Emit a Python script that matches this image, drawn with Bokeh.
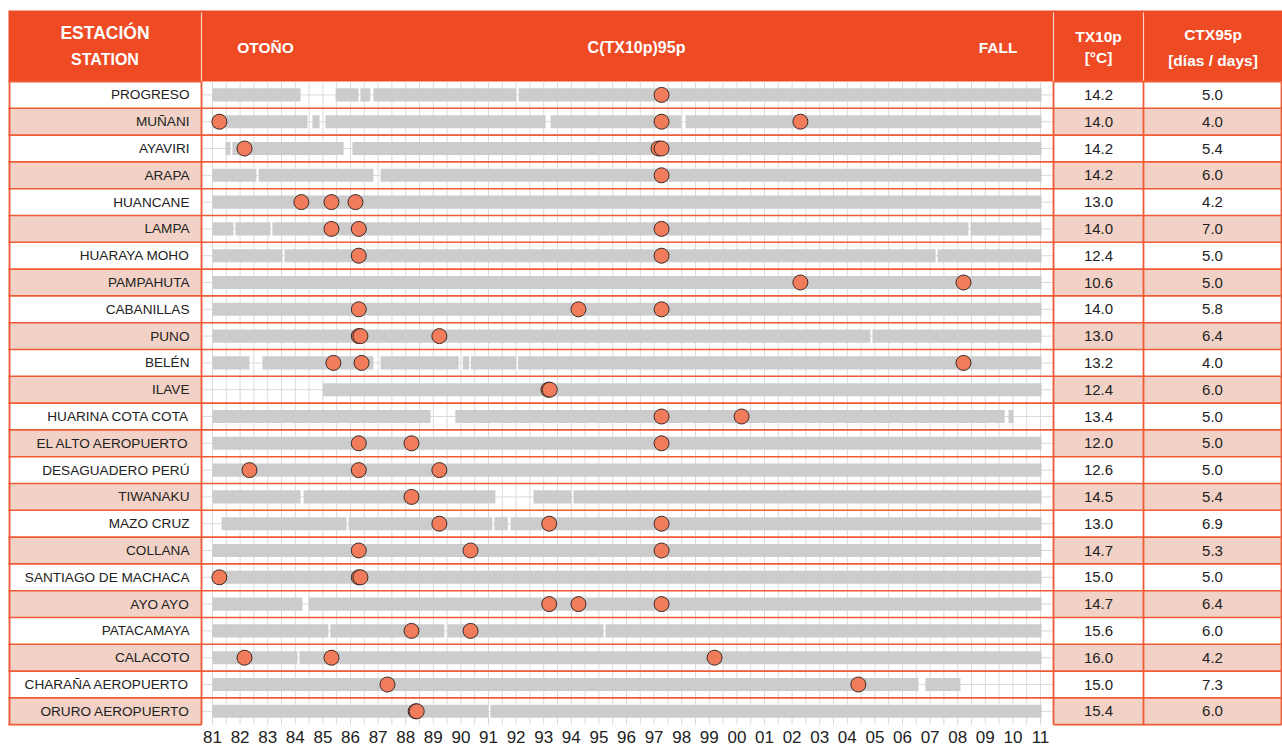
import numpy as np
from bokeh.plotting import figure
from bokeh.models import Range1d
from bokeh.core.properties import value
from bokeh.embed import file_html
from bokeh.resources import INLINE

# ---------------- data ----------------
stations = ["PROGRESO", "MUÑANI", "AYAVIRI", "ARAPA", "HUANCANE", "LAMPA",
            "HUARAYA MOHO", "PAMPAHUTA", "CABANILLAS", "PUNO", "BELÉN", "ILAVE",
            "HUARINA COTA COTA", "EL ALTO AEROPUERTO", "DESAGUADERO PERÚ",
            "TIWANAKU", "MAZO CRUZ", "COLLANA", "SANTIAGO DE MACHACA", "AYO AYO",
            "PATACAMAYA", "CALACOTO", "CHARAÑA AEROPUERTO", "ORURO AEROPUERTO"]

tx10p = [14.2, 14.0, 14.2, 14.2, 13.0, 14.0, 12.4, 10.6, 14.0, 13.0, 13.2, 12.4,
         13.4, 12.0, 12.6, 14.5, 13.0, 14.7, 15.0, 14.7, 15.6, 16.0, 15.0, 15.4]

ctx95p = [5.0, 4.0, 5.4, 6.0, 4.2, 7.0, 5.0, 5.0, 5.8, 6.4, 4.0, 6.0,
          5.0, 5.0, 5.0, 5.4, 6.9, 5.3, 5.0, 6.4, 6.0, 4.2, 7.3, 6.0]

# years of C(TX10p)95p events (decimal years)
events = [
    [1997.27],
    [1981.25, 1997.27, 2002.30],
    [1982.16, 1997.16, 1997.27],
    [1997.27],
    [1984.22, 1985.31, 1986.18],
    [1985.31, 1986.30, 1997.27],
    [1986.30, 1997.27],
    [2002.30, 2008.21],
    [1986.30, 1994.26, 1997.27],
    [1986.30, 1986.36, 1989.22],
    [1985.38, 1986.40, 2008.21],
    [1993.17, 1993.22],
    [1997.27, 2000.17],
    [1986.30, 1988.21, 1997.27],
    [1982.34, 1986.30, 1989.22],
    [1988.21],
    [1989.22, 1993.20, 1997.27],
    [1986.30, 1990.35, 1997.27],
    [1981.25, 1986.30, 1986.36],
    [1993.20, 1994.26, 1997.27],
    [1988.21, 1990.35],
    [1982.16, 1985.31, 1999.19],
    [1987.34, 2004.40],
    [1988.36, 1988.40],
]

# periods with data (start, end) in decimal years
segments = [
    [(1981.0, 1984.19), (1985.46, 1986.29), (1986.36, 1986.72), (1986.83, 1992.01), (1992.09, 2011.04)],
    [(1981.0, 1984.44), (1984.62, 1984.88), (1985.09, 1993.07), (1993.25, 1997.99), (1998.14, 2011.04)],
    [(1981.47, 1981.65), (1981.72, 1985.75), (1986.07, 2011.04)],
    [(1981.0, 1982.59), (1982.67, 1986.83), (1987.09, 2011.04)],
    [(1981.0, 2011.04)],
    [(1981.0, 1981.76), (1981.83, 1983.10), (1983.17, 2008.39), (2008.46, 2011.04)],
    [(1981.0, 1983.54), (1983.61, 2007.20), (2007.27, 2011.04)],
    [(1981.0, 2011.04)],
    [(1981.0, 2011.04)],
    [(1981.0, 2004.84), (2004.91, 2011.04)],
    [(1981.0, 1982.34), (1982.81, 1986.83), (1987.09, 1989.92), (1990.07, 1990.30), (1990.36, 1992.00), (1992.07, 2011.04)],
    [(1985.0, 2011.04)],
    [(1981.0, 1988.90), (1989.80, 2009.70), (2009.84, 2010.02)],
    [(1981.0, 2011.04)],
    [(1981.0, 2011.04)],
    [(1981.0, 1984.19), (1984.30, 1991.25), (1992.63, 1994.01), (1994.08, 2011.04)],
    [(1981.33, 1985.86), (1985.93, 1991.14), (1991.21, 1991.70), (1991.80, 2011.04)],
    [(1981.0, 2011.04)],
    [(1981.0, 2011.04)],
    [(1981.0, 1984.26), (1984.48, 2011.04)],
    [(1981.0, 1985.20), (1985.27, 1989.40), (1989.51, 1995.17), (1995.24, 2011.04)],
    [(1981.0, 1984.08), (1984.15, 2011.04)],
    [(1981.0, 2006.58), (2006.83, 2008.10)],
    [(1981.0, 1991.00), (1991.07, 2011.04)],
]

year_ticks = list(range(1981, 2012))
tick_labels = ["81", "82", "83", "84", "85", "86", "87", "88", "89", "90",
               "91", "92", "93", "94", "95", "96", "97", "98", "99", "00",
               "01", "02", "03", "04", "05", "06", "07", "08", "09", "10", "11"]

# ---------------- layout (page pixels) ----------------
W, H = 1282, 745
LEFT, RIGHT = 8, 1281
COL1, COL2, COL3 = 201, 1053, 1143
HEAD_TOP, ROW_TOP, ROW_H = 10, 81, 26.8
YR0_PX, PX_PER_YR = 212.0, 27.6

ORANGE = "#EE4A24"
BORDER = "#F05A35"
SALMON = "#F2D2C6"
GRAY = "#CCCCCC"
GRID = "#DADADA"
DOT = "#F07C5C"
TXT = "#222222"
FONT = "Liberation Sans"

n = len(stations)

p = figure(width=W, height=H, x_range=Range1d(0, W), y_range=Range1d(H, 0),
           output_backend="svg", toolbar_location=None, min_border=0)
p.axis.visible = False
p.grid.visible = False
p.outline_line_color = None
p.background_fill_color = "white"
p.border_fill_color = "white"

yr_start = 1981 + (0 - YR0_PX) / PX_PER_YR
yr_end = 1981 + (W - YR0_PX) / PX_PER_YR
r_start = (H - ROW_TOP) / ROW_H - 0.5
r_end = (0 - ROW_TOP) / ROW_H - 0.5
p.extra_x_ranges = {"yr": Range1d(yr_start, yr_end)}
p.extra_y_ranges = {"row": Range1d(r_start, r_end)}

rows = np.arange(n)
fills = ["white" if i % 2 == 0 else SALMON for i in rows]

# header
p.quad(left=[LEFT], right=[RIGHT + 1], top=[HEAD_TOP], bottom=[ROW_TOP], color=ORANGE, line_color=None)
p.segment(x0=[COL1, COL2, COL3], x1=[COL1, COL2, COL3], y0=[HEAD_TOP + 2] * 3, y1=[ROW_TOP] * 3,
          line_color="#FAD2C2", line_width=1.2)

# table cell fills (left + right columns)
for l, r in [(LEFT, COL1), (COL2, COL3), (COL3, RIGHT)]:
    p.quad(left=[l] * n, right=[r] * n, top=rows - 0.5, bottom=rows + 0.5,
           fill_color=fills, line_color=None, y_range_name="row")

# chart grid: vertical half-year lines
gx = np.arange(1981, 2011.01, 0.5)
p.segment(x0=gx, x1=gx, y0=[-0.5] * len(gx), y1=[n - 0.5] * len(gx),
          line_color=GRID, line_width=1, x_range_name="yr", y_range_name="row")
# row centre lines
p.segment(x0=[COL1] * n, x1=[COL2] * n, y0=rows, y1=rows,
          line_color=GRID, line_width=1, y_range_name="row")

# data bars
bl, br, bt, bb = [], [], [], []
for i, segs in enumerate(segments):
    for s, e in segs:
        bl.append(s); br.append(e); bt.append(i - 0.245); bb.append(i + 0.245)
p.quad(left=bl, right=br, top=bt, bottom=bb, fill_color=GRAY, line_color=None,
       x_range_name="yr", y_range_name="row")

# borders
hb = np.arange(0.5, n - 1, 1.0)
p.segment(x0=[LEFT] * len(hb), x1=[RIGHT] * len(hb), y0=hb, y1=hb,
          line_color=BORDER, line_width=1.6, y_range_name="row")
for l, r in [(LEFT, COL1), (COL2, RIGHT)]:
    p.segment(x0=[l, l], x1=[r, r], y0=[-0.5, n - 0.5], y1=[-0.5, n - 0.5],
              line_color=BORDER, line_width=1.8, y_range_name="row")
p.segment(x0=[LEFT + 1, COL1, COL2, COL3, RIGHT], x1=[LEFT + 1, COL1, COL2, COL3, RIGHT],
          y0=[-0.5] * 5, y1=[n - 0.5] * 5, line_color=BORDER, line_width=1.8, y_range_name="row")

# events
ex, ey = [], []
for i, evs in enumerate(events):
    for e in evs:
        ex.append(e); ey.append(i)
p.scatter(x=ex, y=ey, size=15, fill_color=DOT, line_color="#3a2a25", line_width=1,
          x_range_name="yr", y_range_name="row")

# station names and table values
p.text(x=[189] * n, y=rows, text=stations, text_align="right", text_baseline="middle",
       text_font=value(FONT), text_font_size="13.6px", text_color=TXT, y_range_name="row")
p.text(x=[(COL2 + COL3) / 2] * n, y=rows, text=[f"{v:.1f}" for v in tx10p], text_align="center",
       text_baseline="middle", text_font=value(FONT), text_font_size="15px", text_color=TXT,
       y_range_name="row")
p.text(x=[(COL3 + RIGHT) / 2] * n, y=rows, text=[f"{v:.1f}" for v in ctx95p], text_align="center",
       text_baseline="middle", text_font=value(FONT), text_font_size="15px", text_color=TXT,
       y_range_name="row")

# x tick labels
p.text(x=year_ticks, y=[736] * len(year_ticks), text=tick_labels, text_align="center",
       text_baseline="middle", text_font=value(FONT), text_font_size="17px", text_color=TXT,
       x_range_name="yr")

# header texts
hdr = dict(text_baseline="middle", text_align="center", text_font=value(FONT),
           text_font_style="bold", text_color="white")
p.text(x=[104.5], y=[32], text=["ESTACIÓN"], text_font_size="17.5px", **hdr)
p.text(x=[104.5], y=[59], text=["STATION"], text_font_size="16px", **hdr)
p.text(x=[265], y=[46.5], text=["OTOÑO"], text_font_size="15.5px", **hdr)
p.text(x=[636], y=[46.5], text=["C(TX10p)95p"], text_font_size="16px", **hdr)
p.text(x=[997.5], y=[46.5], text=["FALL"], text_font_size="15.5px", **hdr)
p.text(x=[1098], y=[35.5], text=["TX10p"], text_font_size="15.5px", **hdr)
p.text(x=[1098], y=[57], text=["[°C]"], text_font_size="15.5px", **hdr)
p.text(x=[1212.5], y=[33.5], text=["CTX95p"], text_font_size="15.5px", **hdr)
p.text(x=[1212.5], y=[60], text=["[días / days]"], text_font_size="15.5px", **hdr)

open("out.html", "w").write(file_html(p, INLINE))
